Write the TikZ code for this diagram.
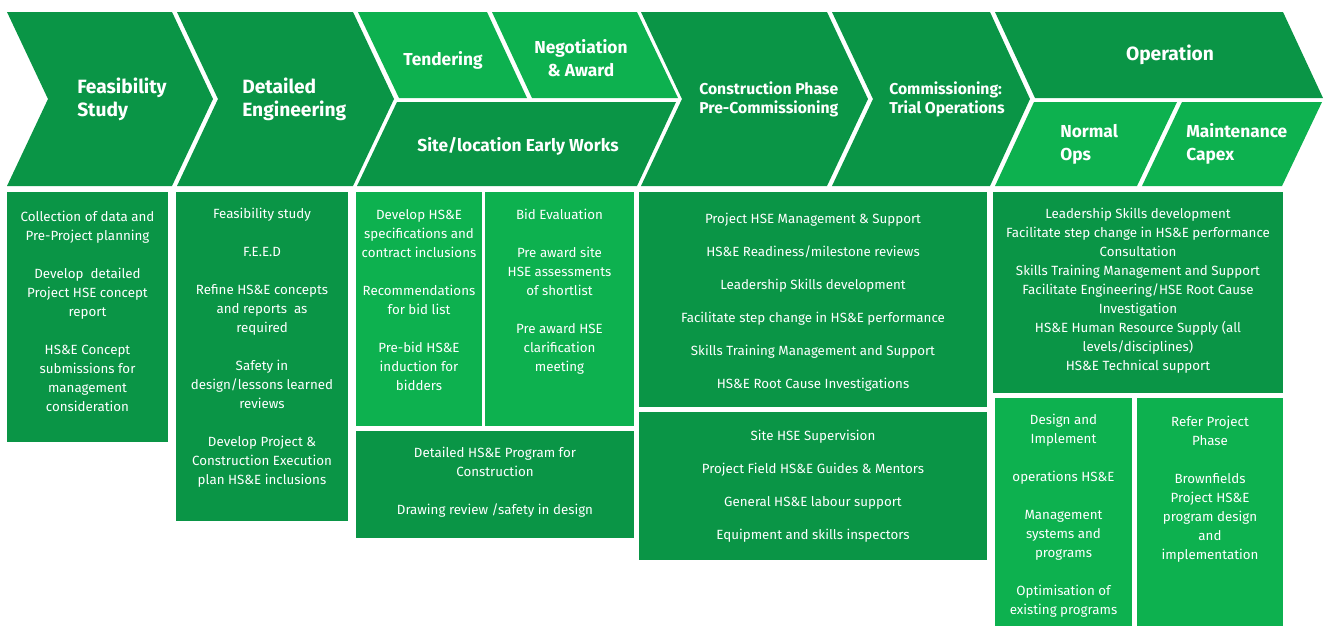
\documentclass[tikz,border=0pt]{standalone}
\usepackage{fontspec}
\setmainfont{Fira Sans}
\definecolor{dkgreen}{RGB}{10,149,70}
\definecolor{ltgreen}{RGB}{13,177,79}

\begin{document}
\begin{tikzpicture}[x=0.75pt, y=-0.75pt,
    phase/.style={text=white, font=\bfseries\fontsize{13}{17.25}\selectfont, align=left, inner sep=0pt},
    bigphase/.style={phase, font=\bfseries\fontsize{14.4}{17.25}\selectfont},
    subphase/.style={text=white, font=\bfseries\fontsize{11.8}{14.25}\selectfont, align=left, inner sep=0pt},
    task/.style={text=white, font=\fontsize{10}{14.25}\selectfont, align=center, inner sep=0pt, anchor=north}]
    \useasboundingbox (0,0) rectangle (1325,626);

    % chevrons
    \fill[dkgreen] (7,12) -- (172,12) -- (213,99) -- (172,186) -- (7,186) -- (48,99) -- cycle;
    \fill[dkgreen] (177,12) -- (353,12) -- (394,99) -- (353,186) -- (177,186) -- (218,99) -- cycle;
    \fill[ltgreen] (358,12) -- (487,12) -- (527,98) -- (399,98) -- cycle;
    \fill[ltgreen] (492,12) -- (637,12) -- (678,98) -- (532,98) -- cycle;
    \fill[dkgreen] (397,102) -- (676,102) -- (637,186) -- (357,186) -- cycle;
    \fill[dkgreen] (641,12) -- (827,12) -- (868,99) -- (827,186) -- (641,186) -- (682,99) -- cycle;
    \fill[dkgreen] (832,12) -- (990,12) -- (1030,99) -- (990,186) -- (832,186) -- (873,99) -- cycle;
    \fill[dkgreen] (995,12) -- (1283,12) -- (1323,98) -- (1035,98) -- cycle;
    \fill[ltgreen] (1034,102) -- (1177,102) -- (1137,186) -- (995,186) -- cycle;
    \fill[ltgreen] (1182,102) -- (1322,102) -- (1282,186) -- (1142,186) -- cycle;

    \node[bigphase, anchor=west] (feas) at (77,99) {Feasibility\\Study};
    \node[bigphase, anchor=west] (deteng) at (242,99) {Detailed\\Engineering};
    \node[phase] (tender) at (443,60) {Tendering};
    \node[phase, align=center] (negot) at (581,58) {Negotiation\\\& Award};
    \node[phase] (early) at (518,146) {Site/location Early Works};
    \node[subphase, anchor=west] (constr) at (699,99) {Construction Phase\\Pre-Commissioning};
    \node[subphase, anchor=west] (commis) at (889,99) {Commissioning:\\Trial Operations};
    \node[bigphase] (oper) at (1170,55) {Operation};
    \node[phase, anchor=west] (normal) at (1060,144) {Normal\\Ops};
    \node[phase, anchor=west] (maint) at (1186,144) {Maintenance\\Capex};

    % boxes
    \fill[dkgreen] (7,192) rectangle (168,442);
    \fill[dkgreen] (176,192) rectangle (348,521);
    \fill[ltgreen] (356,192) rectangle (482,426);
    \fill[ltgreen] (485,192) rectangle (634,426);
    \fill[dkgreen] (356,431) rectangle (634,538);
    \fill[dkgreen] (639,192) rectangle (987,407);
    \fill[dkgreen] (639,412) rectangle (987,560);
    \fill[dkgreen] (993,192) rectangle (1283,393);
    \fill[ltgreen] (995,398) rectangle (1132,626);
    \fill[ltgreen] (1137,398) rectangle (1283,626);

    \node[task] (feastasks) at (87.5,211) {Collection of data and\\Pre-Project planning\\[14.25pt]
        Develop\ \ detailed\\Project HSE concept\\report\\[14.25pt]
        HS\&E Concept\\submissions for\\management\\consideration};
    \node[task] (dettasks) at (262,208) {Feasibility study\\[14.25pt]F.E.E.D\\[14.25pt]
        Refine HS\&E concepts\\and reports\ \ as\\required\\[14.25pt]
        Safety in\\design/lessons learned\\reviews\\[14.25pt]
        Develop Project \&\\Construction Execution\\plan HS\&E inclusions};
    \node[task] (tendtasks) at (419,209) {Develop HS\&E\\specifications and\\contract inclusions\\[14.25pt]
        Recommendations\\for bid list\\[14.25pt]
        Pre-bid HS\&E\\induction for\\bidders};
    \node[task] (bidtasks) at (559.5,209) {Bid Evaluation\\[14.25pt]
        Pre award site\\HSE assessments\\of shortlist\\[14.25pt]
        Pre award HSE\\clarification\\meeting};
    \node[task] (earlytasks) at (495,447) {Detailed HS\&E Program for\\Construction\\[14.25pt]
        Drawing review /safety in design};
    \node[task] (mgmttasks) at (813,213) {Project HSE Management \& Support\\[10.5pt]
        HS\&E Readiness/milestone reviews\\[10.5pt]
        Leadership Skills development\\[10.5pt]
        Facilitate step change in HS\&E performance\\[10.5pt]
        Skills Training Management and Support\\[10.5pt]
        HS\&E Root Cause Investigations};
    \node[task] (sitetasks) at (813,430) {Site HSE Supervision\\[10.5pt]
        Project Field HS\&E Guides \& Mentors\\[10.5pt]
        General HS\&E labour support\\[10.5pt]
        Equipment and skills inspectors};
    \node[task] (opertasks) at (1138,208) {Leadership Skills development\\
        Facilitate step change in HS\&E performance\\Consultation\\
        Skills Training Management and Support\\
        Facilitate Engineering/HSE Root Cause\\Investigation\\
        HS\&E Human Resource Supply (all\\levels/disciplines)\\
        HS\&E Technical support};
    \node[task] (normtasks) at (1063.5,414) {Design and\\Implement\\[14.25pt]
        operations HS\&E\\[14.25pt]
        Management\\systems and\\programs\\[14.25pt]
        Optimisation of\\existing programs};
    \node[task] (capextasks) at (1210,416) {Refer Project\\Phase\\[14.25pt]
        Brownfields\\Project HS\&E\\program design\\and\\implementation};
\end{tikzpicture}
\end{document}
